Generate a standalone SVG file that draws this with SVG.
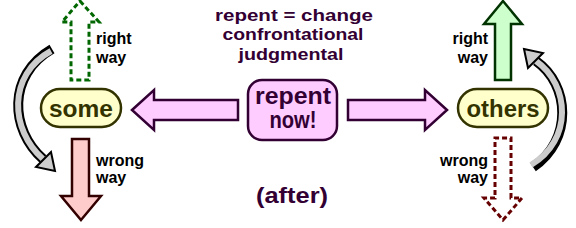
<svg xmlns="http://www.w3.org/2000/svg" width="576" height="228" viewBox="0 0 576 228">
<style>
text{font-family:"Liberation Sans",Arial,sans-serif;font-weight:bold}
.lbl{font-size:16px;fill:#000}
.title{font-size:17px;fill:#330033}
.node{fill:#ffffcc;stroke:#333300;stroke-width:2.5}
.ntext{font-size:24px;fill:#333300}
.pink{fill:#ffccff;stroke:#330033;stroke-width:2.5;stroke-linejoin:miter}
.curveOut{fill:none;stroke:#000;stroke-width:10}
.curveIn{fill:none;stroke:#cccccc;stroke-width:6}
.head{fill:#cccccc;stroke:#000;stroke-width:2}
</style>
<g id="title">
<text class="title" x="294" y="21" text-anchor="middle" textLength="158" lengthAdjust="spacingAndGlyphs">repent = change</text>
<text class="title" x="293" y="40" text-anchor="middle" textLength="141" lengthAdjust="spacingAndGlyphs">confrontational</text>
<text class="title" x="291" y="60" text-anchor="middle" textLength="105" lengthAdjust="spacingAndGlyphs">judgmental</text>
</g>
<g id="connectors">
<polygon class="pink" points="132,110 154,90 154,100 238,100 238,120 154,120 154,130"/>
<polygon class="pink" points="447,110 425,90 425,100 348,100 348,120 425,120 425,130"/>
<polygon points="80,1 99,22 89,22 89,80 71,80 71,22 62,22" fill="none" stroke="#006600" stroke-width="3" stroke-dasharray="5,3"/>
<polygon points="81,220 101,196 89,196 89,139 72,139 72,196 61,196" fill="#ffcccc" stroke="#330000" stroke-width="2.5"/>
<polygon points="503,1 522,24 511,24 511,80 495,80 495,24 484,24" fill="#ccffcc" stroke="#003300" stroke-width="2.5"/>
<polygon points="503,220 522,198 511,198 511,138 495,138 495,198 484,198" fill="none" stroke="#660000" stroke-width="3" stroke-dasharray="5,3"/>
<path class="curveOut" d="M52 49 C7 75 10 130 43 159"/>
<path class="curveIn" d="M51 51 C7 75 10 130 43 159"/>
<polygon class="head" points="55,171 51,152 36,167"/>
<path class="curveOut" d="M533 167 C573 140 570 85 536 61"/>
<path class="curveIn" d="M531 165 C573 140 570 85 536 61"/>
<polygon class="head" points="524,49 543,53 528,68"/>
</g>
<g id="labels">
<text class="lbl" x="96" y="44">right</text>
<text class="lbl" x="96" y="63">way</text>
<text class="lbl" x="96" y="166">wrong</text>
<text class="lbl" x="96" y="183">way</text>
<text class="lbl" x="488" y="44" text-anchor="end">right</text>
<text class="lbl" x="488" y="63" text-anchor="end">way</text>
<text class="lbl" x="488" y="166" text-anchor="end">wrong</text>
<text class="lbl" x="488" y="183" text-anchor="end">way</text>
</g>
<g id="some">
<rect class="node" x="41" y="89" width="80" height="38" rx="19"/>
<text class="ntext" x="81" y="117" text-anchor="middle" textLength="64" lengthAdjust="spacingAndGlyphs">some</text>
</g>
<g id="others">
<rect class="node" x="458" y="89" width="90" height="38" rx="19"/>
<text class="ntext" x="503" y="117" text-anchor="middle" textLength="73" lengthAdjust="spacingAndGlyphs">others</text>
</g>
<g id="repent">
<rect class="pink" x="248" y="80" width="89" height="60" rx="14"/>
<text x="293" y="104" text-anchor="middle" font-size="23" fill="#330033" textLength="76" lengthAdjust="spacingAndGlyphs">repent</text>
<text x="293" y="128" text-anchor="middle" font-size="23" fill="#330033" textLength="47" lengthAdjust="spacingAndGlyphs">now!</text>
</g>
<g id="after">
<text x="292" y="203" text-anchor="middle" font-size="22" fill="#330033" textLength="72" lengthAdjust="spacingAndGlyphs">(after)</text>
</g>
</svg>
